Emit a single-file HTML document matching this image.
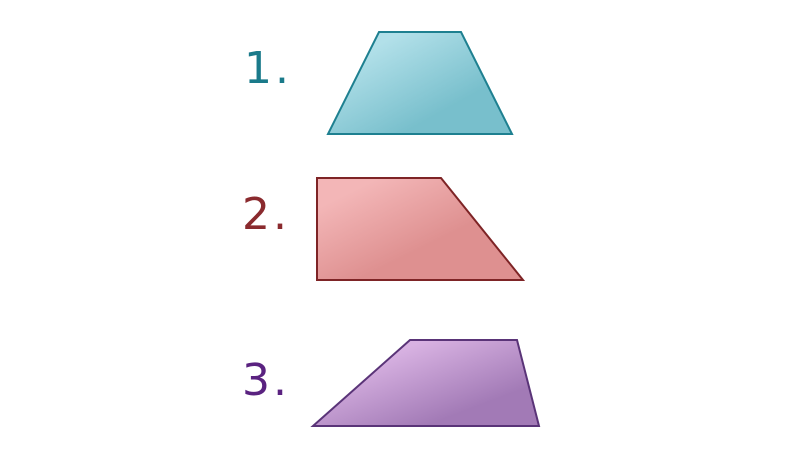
<!DOCTYPE html>
<html><head><meta charset="utf-8"><style>
html,body{margin:0;padding:0;background:#fff;}
svg{display:block;}
</style></head><body>
<svg width="800" height="458" viewBox="0 0 800 458">
<defs>
<linearGradient id="g1" x1="0" y1="0" x2="1" y2="1"><stop offset="0.2" stop-color="#b2e0e9"/><stop offset="0.7" stop-color="#78bfcc"/></linearGradient>
<linearGradient id="g2" x1="0" y1="0" x2="1" y2="1"><stop offset="0.15" stop-color="#f3b6b7"/><stop offset="0.6" stop-color="#de9090"/></linearGradient>
<linearGradient id="g3" x1="0" y1="0" x2="1" y2="1"><stop offset="0.25" stop-color="#d8b2e2"/><stop offset="0.75" stop-color="#a27ab6"/></linearGradient>
</defs>
<g font-family="'DejaVu Sans', sans-serif" font-size="44" letter-spacing="3">
<text x="244" y="83" fill="#1a7a8a">1.</text>
<text x="242" y="229" fill="#8a2a2e">2.</text>
<text x="242" y="395" fill="#5a2280">3.</text>
</g>
<polygon points="379,32 461,32 512,134 328,134" fill="url(#g1)" stroke="#1e8090" stroke-width="2"/>
<polygon points="317,178 441,178 523,280 317,280" fill="url(#g2)" stroke="#7e2426" stroke-width="2"/>
<polygon points="410,340 517,340 539,426 313,426" fill="url(#g3)" stroke="#5a3478" stroke-width="2"/>
</svg>
</body></html>
